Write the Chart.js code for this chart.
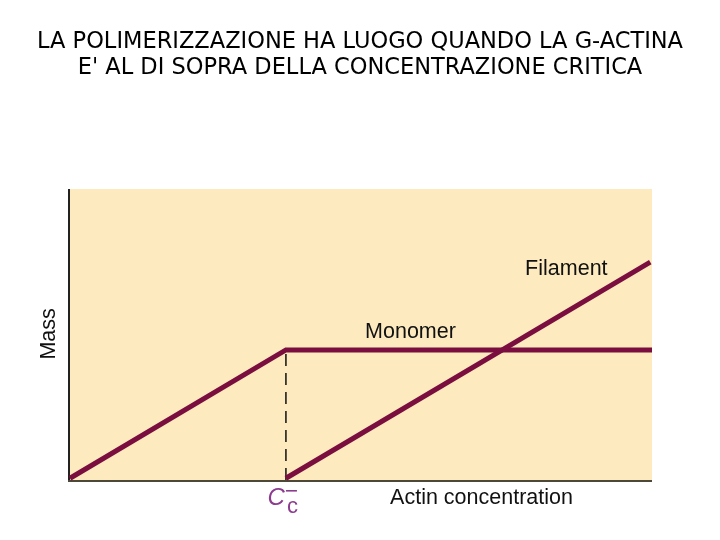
<!DOCTYPE html>
<html>
<head>
<meta charset="utf-8">
<script src="https://cdn.jsdelivr.net/npm/chart.js@4/dist/chart.umd.min.js"></script>
<style>
html,body{margin:0;padding:0;background:#fff;}
#wrap{width:720px;height:540px;}
</style>
</head>
<body>
<div id="wrap"><canvas id="c" width="720" height="540"></canvas></div>
<script>
// Data (arbitrary units: concentration 0-100, mass 0-100)
const titleLines = ["LA POLIMERIZZAZIONE HA LUOGO QUANDO LA G-ACTINA", "E' AL DI SOPRA DELLA CONCENTRAZIONE CRITICA"];
const criticalConc = 37.1;
const monomerX = [0, 37.1, 100];
const monomerY = [0.6, 44.7, 44.7];
const filamentX = [37.1, 99.7];
const filamentY = [0.6, 74.9];
const dashX = [37.1, 37.1];
const dashY = [0, 44.7];
const seriesLabels = ["Monomer", "Filament"];
const xAxisLabel = "Actin concentration";
const yAxisLabel = "Mass";

const toPts = (xs, ys) => xs.map((x, i) => ({x: x, y: ys[i]}));

const lineColor = "#7a0e3e";

const decor = {
  id: 'decor',
  beforeDatasetsDraw(chart) {
    const {ctx, chartArea: a} = chart;
    ctx.save();
    ctx.fillStyle = '#fdeabf';
    ctx.fillRect(a.left, a.top, a.right - a.left, a.bottom - a.top);
    // axes
    ctx.strokeStyle = '#222';
    ctx.lineWidth = 2;
    ctx.beginPath();
    ctx.moveTo(a.left - 1, a.top);
    ctx.lineTo(a.left - 1, a.bottom);
    ctx.stroke();
    ctx.strokeStyle = '#4d4838';
    ctx.beginPath();
    ctx.moveTo(a.left - 2, a.bottom + 1);
    ctx.lineTo(a.right, a.bottom + 1);
    ctx.stroke();
    ctx.restore();
  },
  afterDatasetsDraw(chart) {
    const {ctx, chartArea: a, scales} = chart;
    const xs = scales.x, ys = scales.y;
    ctx.save();
    ctx.fillStyle = '#111';
    ctx.font = '21.5px "Liberation Sans", Arial, sans-serif';
    ctx.textBaseline = 'middle';
    ctx.textAlign = 'left';
    ctx.fillText(seriesLabels[1], xs.getPixelForValue(78.2), ys.getPixelForValue(72.5));
    ctx.fillText(seriesLabels[0], xs.getPixelForValue(50.7), ys.getPixelForValue(50.8));
    ctx.fillText(xAxisLabel, xs.getPixelForValue(55), a.bottom + 18);
    // y label rotated
    ctx.save();
    ctx.translate(a.left - 21, ys.getPixelForValue(50.2));
    ctx.rotate(-Math.PI / 2);
    ctx.textAlign = 'center';
    ctx.fillText(yAxisLabel, 0, 0);
    ctx.restore();
    // C_c label
    const cx = xs.getPixelForValue(criticalConc);
    ctx.fillStyle = '#8c3b8e';
    ctx.font = 'italic 24px "Liberation Sans", Arial, sans-serif';
    ctx.textAlign = 'right';
    ctx.fillText('C', cx - 1, a.bottom + 18);
    ctx.font = '22px "Liberation Sans", Arial, sans-serif';
    ctx.textAlign = 'left';
    ctx.fillText('c', cx + 1, a.bottom + 27);
    ctx.fillRect(cx + 0, a.bottom + 10, 11, 1.6);
    ctx.restore();
  }
};

const hiddenAxis = (size, isX) => ({
  type: 'linear', min: 0, max: 100, display: true,
  ticks: {display: false}, grid: {display: false, drawTicks: false}, border: {display: false},
  afterFit: s => { if (isX) s.height = size; else s.width = size; }
});

new Chart(document.getElementById('c'), {
  type: 'scatter',
  data: {
    datasets: [
      {label: seriesLabels[0], data: toPts(monomerX, monomerY), showLine: true, borderColor: lineColor, borderWidth: 5, pointRadius: 0, clip: false, borderCapStyle: 'butt', borderJoinStyle: 'miter'},
      {label: seriesLabels[1], data: toPts(filamentX, filamentY), showLine: true, borderColor: lineColor, borderWidth: 5, pointRadius: 0, clip: false, borderCapStyle: 'butt'},
      {label: 'Cc', data: toPts(dashX, dashY), showLine: true, borderColor: '#111', borderWidth: 1.5, borderDash: [12, 7], pointRadius: 0, clip: false}
    ]
  },
  options: {
    responsive: false,
    animation: false,
    events: [],
    layout: {padding: 0},
    plugins: {
      legend: {display: false},
      tooltip: {enabled: false},
      title: {
        display: true,
        text: titleLines,
        color: '#000',
        font: {family: '"DejaVu Sans", sans-serif', size: 22.5, weight: 'normal', lineHeight: 1.156},
        padding: {top: 29, bottom: 108}
      }
    },
    scales: {
      x: hiddenAxis(60, true),
      y: hiddenAxis(70, false),
      y2: Object.assign(hiddenAxis(68, false), {position: 'right'})
    }
  },
  plugins: [decor]
});
</script>
</body>
</html>
